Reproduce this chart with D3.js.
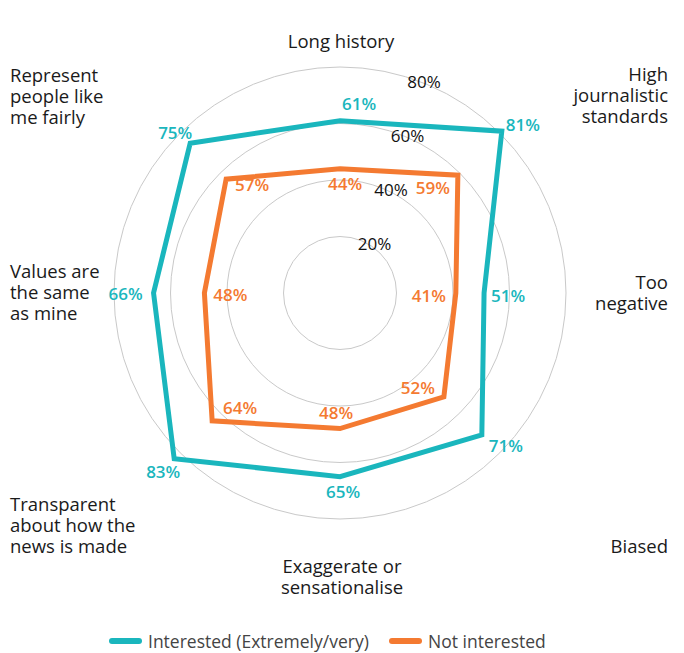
<!DOCTYPE html>
<html>
<head>
<meta charset="utf-8">
<script src="https://cdn.jsdelivr.net/npm/d3@7"></script>
<style>
  body { margin: 0; background: #fff; }
  svg { font-family: "Open Sans", sans-serif; }
</style>
</head>
<body>
<div id="chart"></div>
<script>
// chart values
const categories = ["Long history", "High journalistic standards", "Too negative", "Biased",
    "Exaggerate or sensationalise", "Transparent about how the news is made",
    "Values are the same as mine", "Represent people like me fairly"];
const interested = [61, 81, 51, 71, 65, 83, 66, 75];
const notInterested = [44, 59, 41, 52, 48, 64, 48, 57];
const ringTicks = [20, 40, 60, 80];
const seriesNames = ["Interested (Extremely/very)", "Not interested"];

const width = 684, height = 653;
const cx = 340, cy = 293;
const colors = ["#1ab6bd", "#f47a31"];

// how each category label is laid out (lines + anchor spot)
const catLayout = [
    {lines: ["Long history"], x: 341, y: 40, anchor: "middle"},
    {lines: ["High", "journalistic", "standards"], x: 668, y: 73, anchor: "end"},
    {lines: ["Too", "negative"], x: 668, y: 281, anchor: "end"},
    {lines: ["Biased"], x: 668, y: 545, anchor: "end"},
    {lines: ["Exaggerate or", "sensationalise"], x: 342, y: 565, anchor: "middle"},
    {lines: ["Transparent", "about how the", "news is made"], x: 10, y: 503, anchor: "start"},
    {lines: ["Values are", "the same", "as mine"], x: 10, y: 270, anchor: "start"},
    {lines: ["Represent", "people like", "me fairly"], x: 10, y: 74, anchor: "start"}
];
// nudges for the value labels, relative to their point
const labelNudge = [
    [[19,-17],[21,-7],[24,2],[24,11],[3,15],[-11,13],[-28,0],[-15,-11]],
    [[5,15],[-25,12],[-27,2],[-26,-9],[-4,-16],[28,-13],[26,1],[26,5]]
];

const svg = d3.select("#chart").append("svg")
    .attr("width", width)
    .attr("height", height);

let r = d3.scaleLinear().domain([0, 80]).range([0, 226]);
let angle = d3.scaleLinear().domain([0, categories.length]).range([0, 2 * Math.PI]);

let g = svg.append("g").attr("transform", "translate(" + cx + "," + cy + ")");

g.selectAll("circle.ring")
    .data(ringTicks)
    .join("circle")
    .attr("class", "ring")
    .attr("r", d => r(d))
    .attr("fill", "none")
    .attr("stroke", "#c9c9c9")
    .attr("stroke-width", 1);

let tickAng = 17 * Math.PI / 180;
g.selectAll("text.tick")
    .data(ringTicks)
    .join("text")
    .attr("class", "tick")
    .attr("x", d => r(d) * Math.sin(tickAng) + 18)
    .attr("y", d => -r(d) * Math.cos(tickAng) + 5)
    .attr("text-anchor", "middle")
    .attr("dominant-baseline", "central")
    .attr("font-size", 17)
    .attr("font-weight", 500)
    .attr("fill", "#111")
    .text(d => d + "%");

let line = d3.lineRadial()
    .angle((d, i) => angle(i))
    .radius(d => r(d))
    .curve(d3.curveLinearClosed);

let series = [interested, notInterested];

g.selectAll("path.series")
    .data(series)
    .join("path")
    .attr("class", "series")
    .attr("d", d => line(d))
    .attr("fill", "none")
    .attr("stroke", (d, i) => colors[i])
    .attr("stroke-width", 5)
    .attr("stroke-linejoin", "miter");

function pt(v, i) {
    let a = angle(i);
    return [r(v) * Math.sin(a), -r(v) * Math.cos(a)];
}

series.forEach(function(vals, s) {
    g.append("g")
        .selectAll("text")
        .data(vals)
        .join("text")
        .attr("x", (d, i) => pt(d, i)[0] + labelNudge[s][i][0])
        .attr("y", (d, i) => pt(d, i)[1] + labelNudge[s][i][1])
        .attr("text-anchor", "middle")
        .attr("dominant-baseline", "central")
        .attr("font-size", 17)
        .attr("font-weight", 600)
        .attr("fill", colors[s])
        .text(d => d + "%");
});

// category labels
catLayout.forEach(function(c) {
    let t = svg.append("text")
        .attr("text-anchor", c.anchor)
        .attr("font-size", 18.5)
        .attr("fill", "#1a1a1a");
    c.lines.forEach(function(l, k) {
        t.append("tspan")
            .attr("x", c.x)
            .attr("y", c.y + k * 21)
            .attr("dominant-baseline", "central")
            .text(l);
    });
});

// legend
let legendX = [112, 392];
let leg = svg.append("g").attr("transform", "translate(0,641)");
seriesNames.forEach(function(name, i) {
    leg.append("line")
        .attr("x1", legendX[i]).attr("x2", legendX[i] + 27)
        .attr("y1", 0).attr("y2", 0)
        .attr("stroke", colors[i])
        .attr("stroke-width", 6)
        .attr("stroke-linecap", "round");
    leg.append("text")
        .attr("x", legendX[i] + 36)
        .attr("y", 0)
        .attr("dominant-baseline", "central")
        .attr("font-size", 17.5)
        .attr("fill", "#444")
        .text(name);
});
</script>
</body>
</html>
